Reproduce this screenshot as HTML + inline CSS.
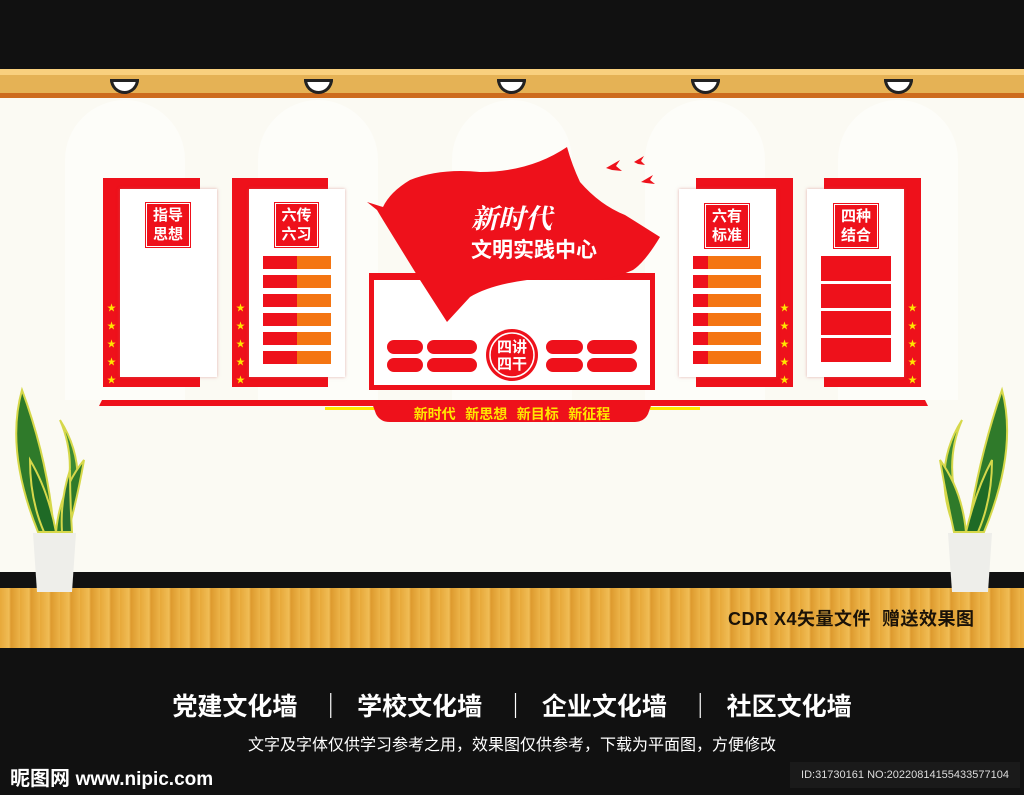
<!DOCTYPE html>
<html><head><meta charset="utf-8"><style>
*{margin:0;padding:0;box-sizing:border-box}
body{width:1024px;height:795px;overflow:hidden;background:#111;position:relative;font-family:"Liberation Sans","Noto Sans CJK SC",sans-serif}
.a{position:absolute}
.red{background:#ee111b}
.wh{background:#fff;box-shadow:0 0 3px rgba(200,100,100,.5)}
.lbl{position:absolute;background:#ee111b;color:#fff;font-weight:bold;font-size:15px;line-height:19px;text-align:center;border:1px solid #fff;outline:1px solid #ee111b;padding-top:2px}
.star{position:absolute;color:#ffe600;font-size:9px;line-height:9px}
.bar{position:absolute;height:13px;background:#f47512;border-left:34px solid #ee111b}
.pill{position:absolute;background:#ee111b;border-radius:8px;height:14px}
</style></head><body>
<div class="a" style="left:0;top:0;width:1024px;height:69px;background:#111"></div>
<div class="a" style="left:0;top:98px;width:1024px;height:474px;background:#fbfaf3;overflow:hidden">
<div class="a" style="left:65px;top:2px;width:120px;height:300px;border-radius:60px 60px 0 0;background:#fdfdf9"></div>
<div class="a" style="left:258px;top:2px;width:120px;height:300px;border-radius:60px 60px 0 0;background:#fdfdf9"></div>
<div class="a" style="left:452px;top:2px;width:120px;height:300px;border-radius:60px 60px 0 0;background:#fdfdf9"></div>
<div class="a" style="left:645px;top:2px;width:120px;height:300px;border-radius:60px 60px 0 0;background:#fdfdf9"></div>
<div class="a" style="left:838px;top:2px;width:120px;height:300px;border-radius:60px 60px 0 0;background:#fdfdf9"></div>
</div>
<div class="a" style="left:0;top:69px;width:1024px;height:6px;background:#f9d07e"></div>
<div class="a" style="left:0;top:75px;width:1024px;height:18px;background:#e5b255"></div>
<div class="a" style="left:0;top:93px;width:1024px;height:5px;background:#cd6b1d"></div>
<div class="a" style="left:110px;top:79px;width:29px;height:15px;background:#fff;border:3px solid #222;border-radius:0 0 15px 15px"></div>
<div class="a" style="left:304px;top:79px;width:29px;height:15px;background:#fff;border:3px solid #222;border-radius:0 0 15px 15px"></div>
<div class="a" style="left:497px;top:79px;width:29px;height:15px;background:#fff;border:3px solid #222;border-radius:0 0 15px 15px"></div>
<div class="a" style="left:691px;top:79px;width:29px;height:15px;background:#fff;border:3px solid #222;border-radius:0 0 15px 15px"></div>
<div class="a" style="left:884px;top:79px;width:29px;height:15px;background:#fff;border:3px solid #222;border-radius:0 0 15px 15px"></div>

<!-- floor -->
<div class="a" style="left:0;top:572px;width:1024px;height:16px;background:#111"></div>
<div class="a" style="left:0;top:588px;width:1024px;height:60px;background:repeating-linear-gradient(90deg,#e7a93a 0,#f0bc55 9px,#dd9a2e 11px,#ecb348 20px);"></div>
<div class="a" style="left:728px;top:605px;font-size:18px;font-weight:bold;color:#1a1208;white-space:nowrap;letter-spacing:0.5px">CDR X4矢量文件&nbsp; 赠送效果图</div>

<!-- panel 1 -->
<div class="a red" style="left:103px;top:178px;width:97px;height:209px"></div>
<div class="a wh" style="left:120px;top:189px;width:97px;height:188px"></div>
<div class="lbl" style="left:146px;top:203px;width:44px;height:44px">指导<br>思想</div>
<!-- panel 2 -->
<div class="a red" style="left:232px;top:178px;width:96px;height:209px"></div>
<div class="a wh" style="left:249px;top:189px;width:96px;height:188px"></div>
<div class="lbl" style="left:275px;top:203px;width:43px;height:44px">六传<br>六习</div>
<!-- panel 3 -->
<div class="a red" style="left:696px;top:178px;width:97px;height:209px"></div>
<div class="a wh" style="left:679px;top:189px;width:97px;height:188px"></div>
<div class="lbl" style="left:705px;top:204px;width:44px;height:44px">六有<br>标准</div>
<!-- panel 4 -->
<div class="a red" style="left:824px;top:178px;width:97px;height:209px"></div>
<div class="a wh" style="left:807px;top:189px;width:97px;height:188px"></div>
<div class="lbl" style="left:834px;top:204px;width:44px;height:44px">四种<br>结合</div>
<div class="a red" style="left:821px;top:256px;width:70px;height:25px"></div>
<div class="a red" style="left:821px;top:284px;width:70px;height:24px"></div>
<div class="a red" style="left:821px;top:311px;width:70px;height:24px"></div>
<div class="a red" style="left:821px;top:338px;width:70px;height:24px"></div>

<div class="bar" style="left:263px;top:256px;width:68px"></div>
<div class="bar" style="left:263px;top:275px;width:68px"></div>
<div class="bar" style="left:263px;top:294px;width:68px"></div>
<div class="bar" style="left:263px;top:313px;width:68px"></div>
<div class="bar" style="left:263px;top:332px;width:68px"></div>
<div class="bar" style="left:263px;top:351px;width:68px"></div>
<div class="bar" style="left:693px;top:256px;width:68px;border-left-width:15px"></div>
<div class="bar" style="left:693px;top:275px;width:68px;border-left-width:15px"></div>
<div class="bar" style="left:693px;top:294px;width:68px;border-left-width:15px"></div>
<div class="bar" style="left:693px;top:313px;width:68px;border-left-width:15px"></div>
<div class="bar" style="left:693px;top:332px;width:68px;border-left-width:15px"></div>
<div class="bar" style="left:693px;top:351px;width:68px;border-left-width:15px"></div>

<div class="star" style="left:107px;top:304px">★<br><br>★<br><br>★<br><br>★<br><br>★</div>
<div class="star" style="left:236px;top:304px">★<br><br>★<br><br>★<br><br>★<br><br>★</div>
<div class="star" style="left:780px;top:304px">★<br><br>★<br><br>★<br><br>★<br><br>★</div>
<div class="star" style="left:908px;top:304px">★<br><br>★<br><br>★<br><br>★<br><br>★</div>

<!-- center -->
<div class="a red" style="left:369px;top:273px;width:286px;height:117px"></div>
<div class="a" style="left:374px;top:280px;width:276px;height:105px;background:#fff"></div>
<svg class="a" style="left:0;top:0" width="1024" height="795">
<path d="M367,202 L383,207 Q390,192 410,180 Q440,168 480,172 Q530,172 567,147 Q572,165 580,182 Q600,205 625,215 L660,237 Q645,262 633,270 Q610,280 593,280 Q560,278 527,280 Q490,285 470,297 L447,322 L420,280 L383,220 L377,210 Z" fill="#ee111b"/>
<g fill="#ee111b">
<path d="M606,168 l14,-8 l-4,6 l6,5 l-10,-1 z"/><path d="M634,162 l10,-6 l-3,5 l4,4 l-7,-1 z"/><path d="M641,182 l12,-7 l-3,5 l5,4 l-9,-1 z"/>
</g>
<text x="471" y="228" font-size="27" font-weight="bold" font-style="italic" fill="#fff" font-family="Noto Serif CJK SC,serif">新时代</text>
<text x="471" y="257" font-size="21" font-weight="bold" fill="#fff" font-family="Noto Sans CJK SC,sans-serif">文明实践中心</text>
<circle cx="512" cy="355" r="26" fill="#ee111b"/><circle cx="512" cy="355" r="22" fill="none" stroke="#fff" stroke-width="1.5"/>
<text x="512" y="352" font-size="15" font-weight="bold" fill="#fff" text-anchor="middle" font-family="Noto Sans CJK SC,sans-serif">四讲</text>
<text x="512" y="369" font-size="15" font-weight="bold" fill="#fff" text-anchor="middle" font-family="Noto Sans CJK SC,sans-serif">四干</text>
<path d="M102,400 L925,400 L928,406 L99,406 Z" fill="#ee111b"/>
<rect x="325" y="407" width="50" height="3" fill="#ffe600"/><rect x="650" y="407" width="50" height="3" fill="#ffe600"/>
<path d="M372,403 L652,403 L648,414 Q644,422 634,422 L390,422 Q380,422 376,414 Z" fill="#ee111b"/>
<text x="512" y="419" font-size="14" font-weight="bold" fill="#ffe600" text-anchor="middle" font-family="Noto Sans CJK SC,sans-serif" xml:space="preserve">新时代   新思想   新目标   新征程</text>
<!-- plants -->
<g stroke="#d6d84a" stroke-width="2">
<path d="M22,390 Q5,450 38,532 L54,532 Q48,460 22,390Z" fill="#2f7a2a"/>
<path d="M60,420 Q82,470 55,532 L66,532 Q92,470 60,420Z" fill="#3b8a34"/>
<path d="M84,460 Q60,490 56,532 L68,532 Q78,495 84,460Z" fill="#2f7a2a"/>
<path d="M30,460 Q30,500 44,532 L56,532 Q48,490 30,460Z" fill="#1f6a26"/>
<path d="M70,470 Q60,500 62,532 L72,532 Q70,500 70,470Z" fill="#2a7030"/>
<path d="M1002,390 Q1018,450 984,532 L968,532 Q978,460 1002,390Z" fill="#2f7a2a"/>
<path d="M962,420 Q940,470 967,532 L956,532 Q930,470 962,420Z" fill="#3b8a34"/>
<path d="M940,460 Q962,490 966,532 L954,532 Q946,495 940,460Z" fill="#2f7a2a"/>
<path d="M992,460 Q992,500 978,532 L966,532 Q976,490 992,460Z" fill="#1f6a26"/>
</g>
<path d="M33,533 L76,533 L72,592 L37,592 Z" fill="#eeeeea"/>
<path d="M948,533 L992,533 L988,592 L952,592 Z" fill="#eeeeea"/>
</svg>
<div class="pill" style="left:387px;top:340px;width:36px"></div>
<div class="pill" style="left:427px;top:340px;width:50px"></div>
<div class="pill" style="left:387px;top:358px;width:36px"></div>
<div class="pill" style="left:427px;top:358px;width:50px"></div>
<div class="pill" style="left:546px;top:340px;width:37px"></div>
<div class="pill" style="left:587px;top:340px;width:50px"></div>
<div class="pill" style="left:546px;top:358px;width:37px"></div>
<div class="pill" style="left:587px;top:358px;width:50px"></div>

<!-- bottom -->
<div class="a" style="left:0;top:687px;width:1024px;text-align:center;color:#fff;font-size:25px;font-weight:bold;white-space:nowrap">党建文化墙&nbsp;&nbsp; ｜ &nbsp;学校文化墙&nbsp;&nbsp; ｜ &nbsp;企业文化墙&nbsp;&nbsp; ｜ &nbsp;社区文化墙</div>
<div class="a" style="left:0;top:731px;width:1024px;text-align:center;color:#fff;font-size:16px;white-space:nowrap">文字及字体仅供学习参考之用，效果图仅供参考，下载为平面图，方便修改</div>
<div class="a" style="left:10px;top:762px;color:#fff;font-size:20px;font-weight:bold;white-space:nowrap">昵图网 <span style="font-size:19px">www.nipic.com</span></div>
<div class="a" style="left:790px;top:762px;width:230px;height:26px;background:#1a1a1a;color:#ddd;font-size:11px;line-height:26px;text-align:center;white-space:nowrap">ID:31730161 NO:20220814155433577104</div>
</body></html>
